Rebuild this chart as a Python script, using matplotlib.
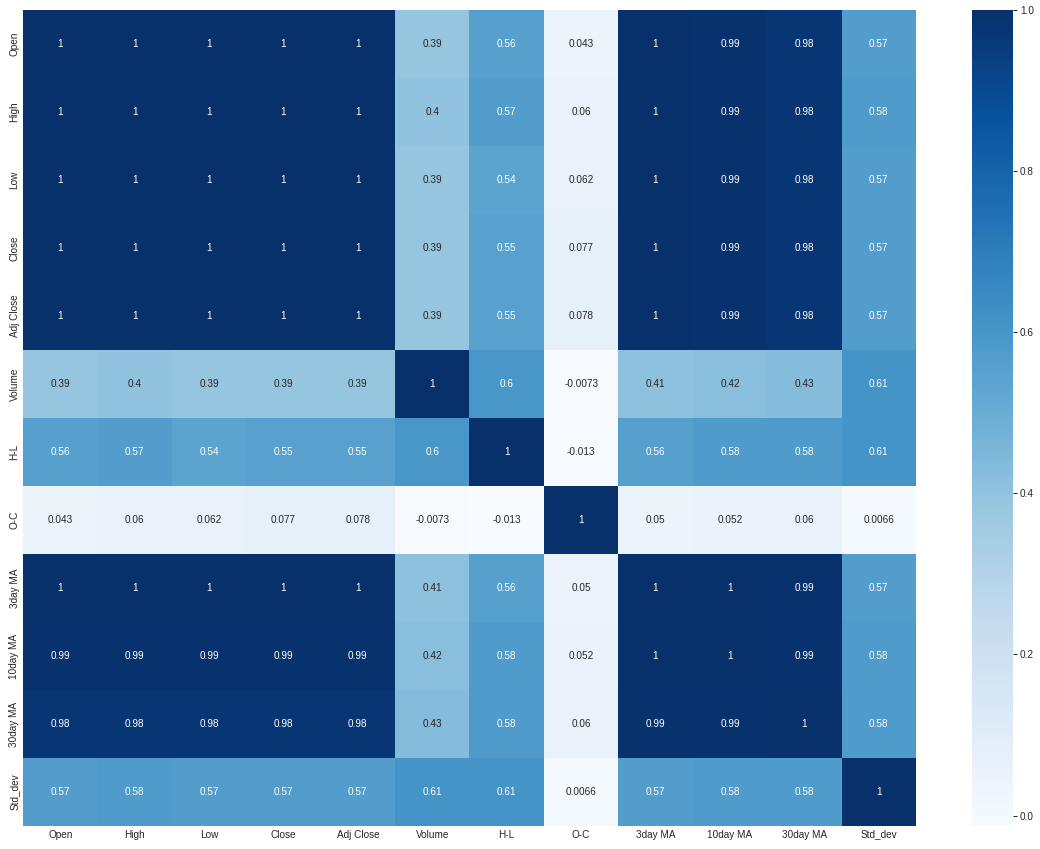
import matplotlib
matplotlib.use("Agg")
import matplotlib.pyplot as plt
from matplotlib import font_manager as fm
import numpy as np
import pandas as pd
import seaborn as sns

labels = ["Open", "High", "Low", "Close", "Adj Close", "Volume", "H-L", "O-C",
          "3day MA", "10day MA", "30day MA", "Std_dev"]

row_open = [1, 1, 1, 1, 1, 0.39, 0.56, 0.043, 1, 0.99, 0.98, 0.57]
row_high = [1, 1, 1, 1, 1, 0.4, 0.57, 0.06, 1, 0.99, 0.98, 0.58]
row_low = [1, 1, 1, 1, 1, 0.39, 0.54, 0.062, 1, 0.99, 0.98, 0.57]
row_close = [1, 1, 1, 1, 1, 0.39, 0.55, 0.077, 1, 0.99, 0.98, 0.57]
row_adj = [1, 1, 1, 1, 1, 0.39, 0.55, 0.078, 1, 0.99, 0.98, 0.57]
row_volume = [0.39, 0.4, 0.39, 0.39, 0.39, 1, 0.6, -0.0073, 0.41, 0.42, 0.43, 0.61]
row_hl = [0.56, 0.57, 0.54, 0.55, 0.55, 0.6, 1, -0.013, 0.56, 0.58, 0.58, 0.61]
row_oc = [0.043, 0.06, 0.062, 0.077, 0.078, -0.0073, -0.013, 1, 0.05, 0.052, 0.06, 0.0066]
row_3ma = [1, 1, 1, 1, 1, 0.41, 0.56, 0.05, 1, 1, 0.99, 0.57]
row_10ma = [0.99, 0.99, 0.99, 0.99, 0.99, 0.42, 0.58, 0.052, 1, 1, 0.99, 0.58]
row_30ma = [0.98, 0.98, 0.98, 0.98, 0.98, 0.43, 0.58, 0.06, 0.99, 0.99, 1, 0.58]
row_std = [0.57, 0.58, 0.57, 0.57, 0.57, 0.61, 0.61, 0.0066, 0.57, 0.58, 0.58, 1]

corr = pd.DataFrame([row_open, row_high, row_low, row_close, row_adj, row_volume,
                     row_hl, row_oc, row_3ma, row_10ma, row_30ma, row_std],
                    index=labels, columns=labels)

sns.set_style("whitegrid")
plt.rcParams["font.family"] = ["Liberation Sans", "DejaVu Sans"]

# pick the regular (non-narrow) Liberation Sans file explicitly
font_file = None
for f in fm.fontManager.ttflist:
    base = f.fname.split("/")[-1].lower()
    if base.startswith("liberationsans-regular"):
        font_file = f.fname
        break
fp = fm.FontProperties(fname=font_file, size=10) if font_file else fm.FontProperties(family="Liberation Sans", size=10)

W, H, DPI = 1040, 849, 72
fig = plt.figure(figsize=(W / DPI, H / DPI), dpi=DPI)
ax = fig.add_axes([23 / W, (H - 826) / H, (916 - 23) / W, (826 - 10) / H])
cax = fig.add_axes([972 / W, (H - 826) / H, 41 / W, (826 - 10) / H])

sns.heatmap(corr, annot=True, cmap="Blues", ax=ax, cbar_ax=cax,
            annot_kws={"fontsize": 10})

ax.tick_params(axis="both", length=0, labelsize=10, colors=".15")
ax.set_yticklabels(labels, rotation=90, va="center")
ax.set_xticklabels(labels, rotation=0)
cax.tick_params(axis="y", length=3.5, width=1, labelsize=10, colors=".15", right=True)
cax.set_yticks([0.0, 0.2, 0.4, 0.6, 0.8, 1.0])
cax.set_yticklabels(["0.0", "0.2", "0.4", "0.6", "0.8", "1.0"])

for t in list(ax.texts) + ax.get_xticklabels() + ax.get_yticklabels() + cax.get_yticklabels():
    t.set_fontproperties(fp)

fig.savefig("out.png", dpi=DPI)
